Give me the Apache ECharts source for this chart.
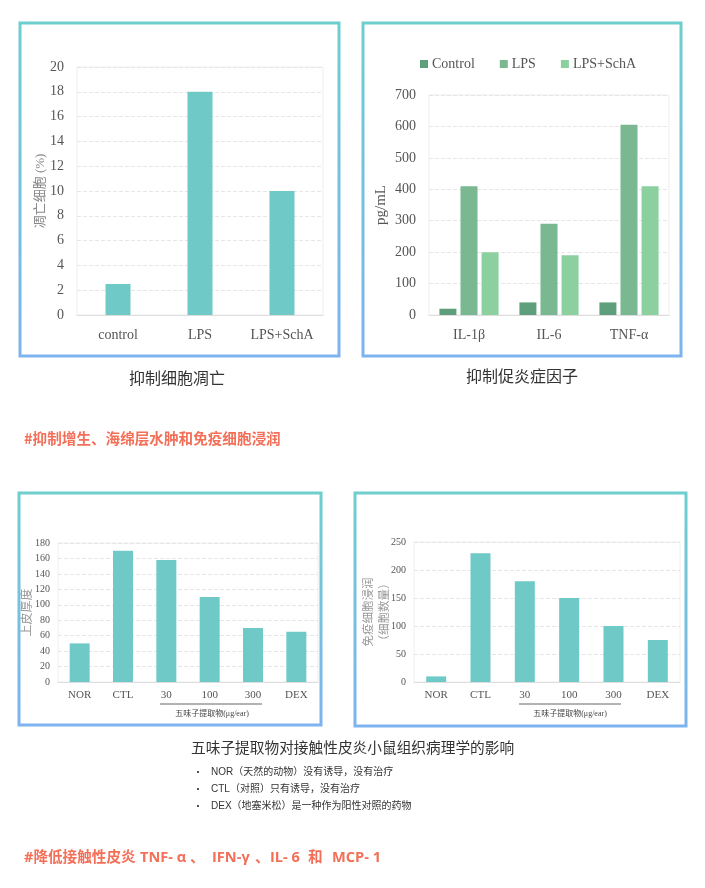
<!DOCTYPE html>
<html>
<head>
<meta charset="utf-8">
<script src="https://cdn.jsdelivr.net/npm/echarts@6/dist/echarts.min.js"></script>
<style>
html,body{margin:0;padding:0;background:#fff;}
#main{width:705px;height:888px;}
</style>
</head>
<body>
<div id="main"></div>
<script>
// ---- data ----
const apoCats = ['control', 'LPS', 'LPS+SchA'];
const apoVals = [2.5, 18, 10];

const cytCats = ['IL-1β', 'IL-6', 'TNF-α'];
const cytSeriesNames = ['Control', 'LPS', 'LPS+SchA'];
const cytControl = [20, 40, 40];
const cytLPS = [410, 290, 605];
const cytSchA = [200, 190, 410];

const groupCats = ['NOR', 'CTL', '30', '100', '300', 'DEX'];
const epiVals = [50, 170, 158, 110, 70, 65];
const immVals = [10, 230, 180, 150, 100, 75];

const yMax = [20, 700, 180, 250];
const yStep = [2, 100, 20, 50];

const bulletItems = [
  'NOR（天然的动物）没有诱导，没有治疗',
  'CTL（对照）只有诱导，没有治疗',
  'DEX（地塞米松）是一种作为阳性对照的药物'
];

// ---- styles ----
const SERIF = "'Liberation Serif', 'Noto Sans CJK SC', serif";
const CJK = "'Noto Sans CJK SC', sans-serif";
const TEAL = '#6fcac7';
const greens = ['#5f9f7b', '#79b891', '#8dd0a0'];
const ORANGE = '#f36f58';

const chart = echarts.init(document.getElementById('main'), null, {renderer: 'canvas'});

function borderGrad() {
  return new echarts.graphic.LinearGradient(0, 0, 0, 1, [
    {offset: 0, color: '#6dcfcd'},
    {offset: 1, color: '#7db3ef'}
  ]);
}
function panel(x, y, w, h) {
  return {type: 'rect', shape: {x: x, y: y, width: w, height: h},
    style: {fill: 'none', stroke: borderGrad(), lineWidth: 3}, z: 10};
}
function txt(t, x, y, font, fill, align) {
  return {type: 'text', x: x, y: y, z: 10,
    style: {text: t, font: font, fill: fill, align: align || 'left', verticalAlign: 'middle'}};
}

function xAx(grid, cats, size) {
  return {type: 'category', gridIndex: grid, data: cats,
    axisLine: {lineStyle: {color: '#dddddd'}}, axisTick: {show: false},
    axisLabel: {interval: 0, fontFamily: SERIF, fontSize: size, color: '#555', margin: size === 14 ? 13 : 8}};
}
function yAx(grid, i, size, name, gap, nameSize, nameColor, nameFont) {
  return {type: 'value', gridIndex: grid, min: 0, max: yMax[i], interval: yStep[i],
    name: name, nameLocation: 'middle', nameRotate: 90, nameGap: gap, nameMoveOverlap: false,
    nameTextStyle: {fontFamily: nameFont, fontSize: nameSize, color: nameColor, lineHeight: nameSize + 5},
    axisLine: {show: false}, axisTick: {show: false},
    axisLabel: {fontFamily: SERIF, fontSize: size, color: '#555', margin: size === 14 ? 13 : 8},
    splitLine: {lineStyle: {color: '#e6e6e6', type: 'dashed'}}};
}

const H2 = "bold 14.6px 'Open Sans', " + CJK;

const option = {
  animation: false,
  backgroundColor: '#ffffff',
  grid: [
    {left: 77, top: 67, width: 246, height: 248, show: true, borderColor: '#eeeeee', borderWidth: 1},
    {left: 429, top: 95, width: 240, height: 220, show: true, borderColor: '#eeeeee', borderWidth: 1},
    {left: 58, top: 543, width: 260, height: 139, show: true, borderColor: '#eeeeee', borderWidth: 1},
    {left: 414, top: 542, width: 266, height: 140, show: true, borderColor: '#eeeeee', borderWidth: 1}
  ],
  legend: {
    data: cytSeriesNames, left: 415, top: 52, itemWidth: 8, itemHeight: 8, itemGap: 25, icon: 'rect',
    textStyle: {fontFamily: SERIF, fontSize: 14, color: '#555', padding: [0, 0, 0, -1]}
  },
  xAxis: [
    xAx(0, apoCats, 14),
    xAx(1, cytCats, 14),
    xAx(2, groupCats, 11),
    xAx(3, groupCats, 11)
  ],
  yAxis: [
    yAx(0, 0, 14, '凋亡细胞 (%)', 27, 13, '#888', SERIF),
    yAx(1, 1, 14, 'pg/mL', 38, 15, '#555', SERIF),
    yAx(2, 2, 10, '上皮厚度', 22, 12, '#999', SERIF),
    yAx(3, 3, 10, '免疫细胞浸润\n（细胞数量）', 22, 11.5, '#999', CJK)
  ],
  series: [
    {type: 'bar', xAxisIndex: 0, yAxisIndex: 0, data: apoVals, barWidth: 25, itemStyle: {color: TEAL}},
    {type: 'bar', name: cytSeriesNames[0], xAxisIndex: 1, yAxisIndex: 1, data: cytControl, barWidth: 17, barGap: '24%', itemStyle: {color: greens[0]}},
    {type: 'bar', name: cytSeriesNames[1], xAxisIndex: 1, yAxisIndex: 1, data: cytLPS, barWidth: 17, barGap: '24%', itemStyle: {color: greens[1]}},
    {type: 'bar', name: cytSeriesNames[2], xAxisIndex: 1, yAxisIndex: 1, data: cytSchA, barWidth: 17, barGap: '24%', itemStyle: {color: greens[2]}},
    {type: 'bar', xAxisIndex: 2, yAxisIndex: 2, data: epiVals, barWidth: 20, itemStyle: {color: TEAL}},
    {type: 'bar', xAxisIndex: 3, yAxisIndex: 3, data: immVals, barWidth: 20, itemStyle: {color: TEAL}}
  ],
  graphic: [
    panel(20, 23, 319, 333),
    panel(363, 23, 318, 333),
    panel(19, 493, 302, 232),
    panel(355, 493, 331, 233),
    txt('抑制细胞凋亡', 177, 378, '16px ' + CJK, '#333', 'center'),
    txt('抑制促炎症因子', 522, 376, '16px ' + CJK, '#333', 'center'),
    txt('#抑制增生、海绵层水肿和免疫细胞浸润', 24, 438, 'bold 14.6px ' + CJK, ORANGE),
    {type: 'line', shape: {x1: 160, y1: 704, x2: 262, y2: 704}, style: {stroke: '#666', lineWidth: 1}, z: 10},
    txt('五味子提取物(μg/ear)', 212, 714, '8px ' + SERIF, '#444', 'center'),
    {type: 'line', shape: {x1: 519, y1: 704, x2: 621, y2: 704}, style: {stroke: '#666', lineWidth: 1}, z: 10},
    txt('五味子提取物(μg/ear)', 570, 714, '8px ' + SERIF, '#444', 'center'),
    txt('五味子提取物对接触性皮炎小鼠组织病理学的影响', 191, 747, '14.7px ' + CJK, '#333'),
    txt('•', 193, 772, '10px ' + CJK, '#333'),
    txt(bulletItems[0], 211, 772, "10px 'Liberation Sans', " + CJK, '#333'),
    txt('•', 193, 789, '10px ' + CJK, '#333'),
    txt(bulletItems[1], 211, 789, "10px 'Liberation Sans', " + CJK, '#333'),
    txt('•', 193, 806, '10px ' + CJK, '#333'),
    txt(bulletItems[2], 211, 806, "10px 'Liberation Sans', " + CJK, '#333'),
    txt('#降低接触性皮炎', 24, 858, H2, ORANGE),
    txt('TNF- α', 140, 858, H2, ORANGE),
    txt('、', 190, 858, H2, ORANGE),
    txt('IFN-γ', 212, 858, H2, ORANGE),
    txt('、', 255, 858, H2, ORANGE),
    txt('IL- 6', 270, 858, H2, ORANGE),
    txt('和', 308, 858, H2, ORANGE),
    txt('MCP- 1', 332, 858, H2, ORANGE)
  ]
};
chart.setOption(option);
</script>
</body>
</html>
